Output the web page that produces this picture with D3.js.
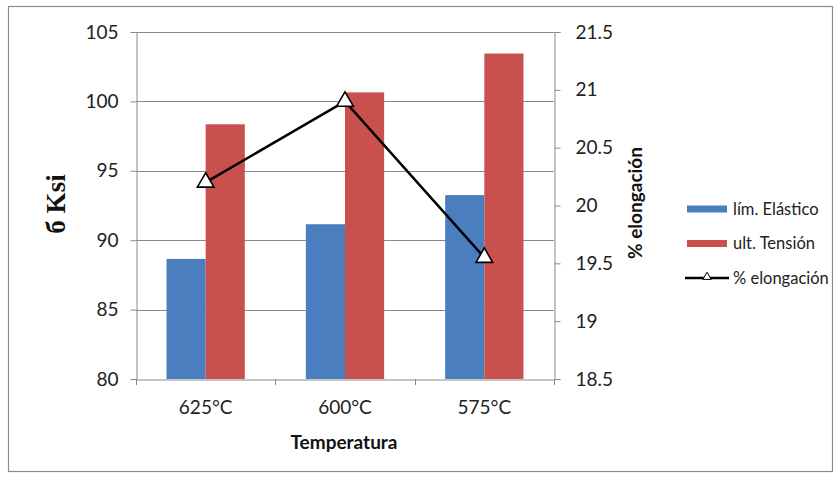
<!DOCTYPE html>
<html><head><meta charset="utf-8">
<script src="https://cdn.jsdelivr.net/npm/d3@7/dist/d3.min.js"></script>
<style>body{margin:0;background:#fff}svg{display:block}</style>
</head><body>
<script>
const categories = ["625°C","600°C","575°C"];
const seriesNames = ["lím. Elástico","ult. Tensión"];
const limElastico = [88.65, 91.15, 93.25];
const ultTension = [98.35, 100.65, 103.45];
const elongacion = [20.2, 20.9, 19.55];
const leftTicks = [80,85,90,95,100,105];
const rightTicks = [18.5,19,19.5,20,20.5,21,21.5];

const W=840,H=478;
const svg=d3.select("body").append("svg").attr("width",W).attr("height",H);
const font="Lato, 'Open Sans', sans-serif";
svg.append("rect").attr("x",8.5).attr("y",6.5).attr("width",824).attr("height",465)
  .attr("fill","#fff").attr("stroke","#8c8c8c").attr("stroke-width",1.2);

const L=136,R=554,T=32,B=379;
const y=d3.scaleLinear().domain([80,105]).range([B,T]);
const y2=d3.scaleLinear().domain([18.5,21.5]).range([B,T]);
const x=d3.scaleBand().domain(categories).range([L,R]).padding(0);
const xs=d3.scaleBand().domain(seriesNames).range([0,x.bandwidth()]).paddingInner(0).paddingOuter(0.78);
const colors={"lím. Elástico":"#4A7EBF","ult. Tensión":"#C8504D"};

// gridlines
svg.append("g").selectAll("line").data(leftTicks.slice(1)).join("line")
  .attr("x1",L).attr("x2",R).attr("y1",d=>Math.round(y(d))+0.5).attr("y2",d=>Math.round(y(d))+0.5)
  .attr("stroke","#8a8a8a").attr("stroke-width",1);

// bars
const data=categories.map((c,i)=>({c,vals:[{s:seriesNames[0],v:limElastico[i]},{s:seriesNames[1],v:ultTension[i]}]}));
svg.append("g").selectAll("g").data(data).join("g")
  .attr("transform",d=>`translate(${x(d.c)},0)`)
  .selectAll("rect").data(d=>d.vals).join("rect")
  .attr("x",d=>xs(d.s)).attr("width",xs.bandwidth())
  .attr("y",d=>y(d.v)).attr("height",d=>B-y(d.v))
  .attr("fill",d=>colors[d.s]);

// axes
const axL=d3.axisLeft(y).tickValues(leftTicks).tickSize(6).tickPadding(12);
const gL=svg.append("g").attr("transform",`translate(${L+0.5},0)`).call(axL);
const axR=d3.axisRight(y2).tickValues(rightTicks).tickSize(6).tickFormat(d3.format("~g")).tickPadding(15);
const gR=svg.append("g").attr("transform",`translate(${R+0.5},0)`).call(axR);
const axB=d3.axisBottom(x).tickSize(0).tickPadding(21);
const gB=svg.append("g").attr("transform",`translate(0,${B+0.5})`).call(axB);
// category boundary ticks
svg.append("g").selectAll("line").data(categories.map(c=>x(c)).concat([R])).join("line")
  .attr("x1",d=>Math.round(d)+0.5).attr("x2",d=>Math.round(d)+0.5).attr("y1",B).attr("y2",B+6)
  .attr("stroke","#8a8a8a");
[gL,gR,gB].forEach(g=>{
  g.selectAll("path").attr("stroke","#8a8a8a");
  g.selectAll("line").attr("stroke","#8a8a8a");
  g.selectAll("text").attr("font-family",font).attr("font-size",19).attr("fill","#222");
});

// line series
const line=d3.line().x((d,i)=>x(categories[i])+x.bandwidth()/2).y(d=>y2(d));
svg.append("path").datum(elongacion).attr("d",line).attr("fill","none")
  .attr("stroke","#000").attr("stroke-width",2.5);
const tri=d3.symbol().type(d3.symbolTriangle).size(120);
svg.append("g").selectAll("path").data(elongacion).join("path")
  .attr("d",tri).attr("transform",(d,i)=>`translate(${x(categories[i])+x.bandwidth()/2},${y2(d)})`)
  .attr("fill","#fff").attr("stroke","#000").attr("stroke-width",1.6);

// titles
svg.append("text").attr("transform","translate(65,204) rotate(-90)").attr("text-anchor","middle")
  .attr("font-family","'Liberation Serif', 'Times New Roman', serif").attr("font-weight","bold")
  .attr("font-size",27).attr("fill","#111").text("б Ksi");
svg.append("text").attr("transform","translate(642,203) rotate(-90)").attr("text-anchor","middle")
  .attr("font-family",font).attr("font-weight","bold").attr("font-size",19).attr("fill","#111").text("% elongación");
svg.append("text").attr("x",344).attr("y",449).attr("text-anchor","middle")
  .attr("font-family",font).attr("font-weight","bold").attr("font-size",19).attr("fill","#111").text("Temperatura");

// legend
const lg=svg.append("g");
const lrows=[{n:seriesNames[0],t:"rect"},{n:seriesNames[1],t:"rect"},{n:"% elongación",t:"line"}];
lrows.forEach((r,i)=>{
  const cy=209+i*34.5;
  if(r.t==="rect"){
    lg.append("rect").attr("x",687).attr("y",cy-3.5).attr("width",40).attr("height",7).attr("fill",colors[r.n]);
  } else {
    lg.append("line").attr("x1",685).attr("x2",729).attr("y1",cy).attr("y2",cy).attr("stroke","#000").attr("stroke-width",2.5);
    lg.append("path").attr("d",d3.symbol().type(d3.symbolTriangle).size(30)).attr("transform",`translate(707,${cy-1})`)
      .attr("fill","#fff").attr("stroke","#000").attr("stroke-width",1);
  }
  lg.append("text").attr("x",733).attr("y",cy).attr("dy","0.35em").attr("font-family",font)
    .attr("font-size",16.5).attr("fill","#222").text(r.n);
});
</script>
</body></html>
